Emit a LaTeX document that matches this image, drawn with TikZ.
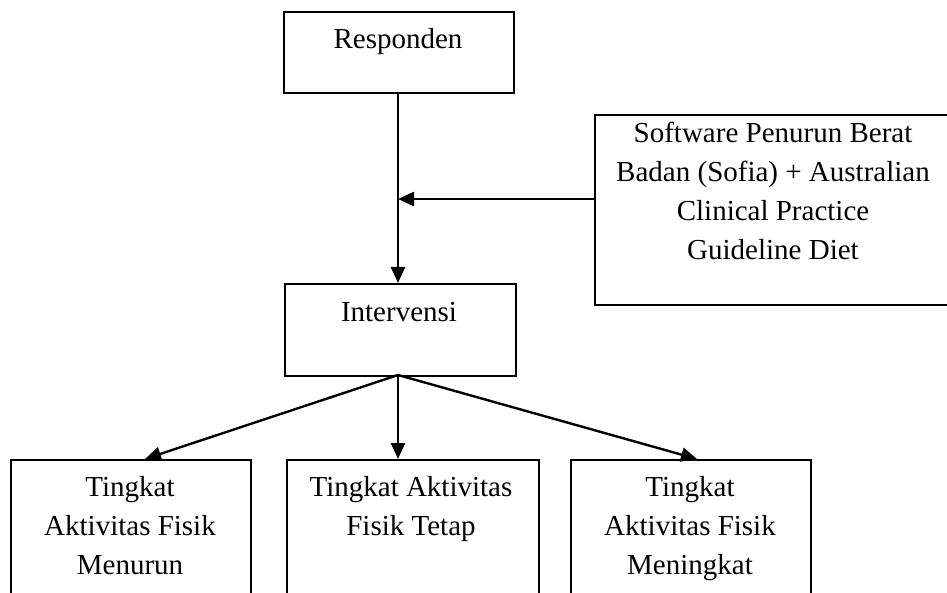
\documentclass[tikz,border=0pt]{standalone}
\usepackage{fontspec}
\setmainfont{Liberation Serif}
\usetikzlibrary{arrows.meta,calc}
\begin{document}
\begin{tikzpicture}[x=1pt,y=-1pt,
  box/.style={draw,line width=2.4pt,inner sep=0pt,anchor=north west},
  txt/.style={inner sep=0pt,anchor=base,align=center,font=\fontsize{29}{39}\selectfont},
  arr/.style={line width=2.4pt,-{Triangle[length=16pt,width=14pt]}}]
\useasboundingbox (0,0) rectangle (947,593);
% boxes
\node[box,minimum width=230pt,minimum height=81pt] (resp) at (283,11) {};
\node[box,minimum width=231pt,minimum height=92pt] (int) at (284,283) {};
\node[box,minimum width=360pt,minimum height=190pt] (soft) at (594,114) {};
\node[box,minimum width=240pt,minimum height=160pt] (lb) at (10,459) {};
\node[box,minimum width=252pt,minimum height=160pt] (mb) at (286,459) {};
\node[box,minimum width=240pt,minimum height=160pt] (rb) at (570,459) {};
% texts (base anchor = last line baseline)
\node[txt] (tresp) at (398,49) {Responden};
\node[txt] (tint) at (399,322) {Intervensi};
\node[txt] (tsoft) at (773,260) {Software Penurun Berat\\Badan (Sofia) + Australian\\Clinical Practice\\Guideline Diet};
\node[txt] (tlb) at (130,574) {Tingkat\\Aktivitas Fisik\\Menurun};
\node[txt] (tmb) at (411,535) {Tingkat Aktivitas\\Fisik Tetap};
\node[txt] (trb) at (690,574) {Tingkat\\Aktivitas Fisik\\Meningkat};
% connectors
\coordinate (j) at (398,199);
\coordinate (o) at (398,375);
\coordinate (lt) at (145,459);
\coordinate (mt) at (398,459);
\coordinate (rt) at (697,459);
\draw[arr] (resp.south -| j) -- (j |- int.north);
\draw[arr] (soft.west |- j) -- (j);
\draw[arr] (o) -- (lt);
\draw[arr] (o) -- (mt);
\draw[arr] (o) -- (rt);
\end{tikzpicture}
\end{document}
